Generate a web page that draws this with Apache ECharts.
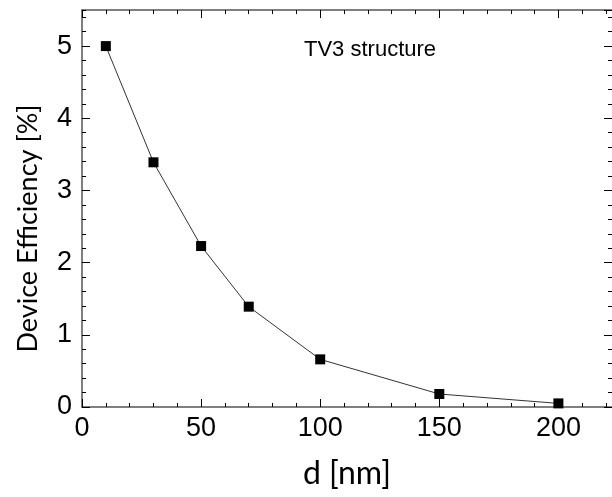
<!DOCTYPE html>
<html>
<head>
<meta charset="utf-8">
<script src="https://cdn.jsdelivr.net/npm/echarts@6/dist/echarts.min.js"></script>
<style>
  html, body { margin: 0; padding: 0; background: #fff; }
  #chart { width: 612px; height: 497px; }
</style>
</head>
<body>
<div id="chart"></div>
<script>
// thickness d [nm] vs device efficiency [%]
var thickness = [10, 30, 50, 70, 100, 150, 200];
var efficiency = [5.0, 3.39, 2.23, 1.39, 0.66, 0.18, 0.05];
var noteText = 'TV3 structure';

var font = 'Liberation Sans, Arial, sans-serif';
var nameFont = 'Lato, Liberation Sans, sans-serif';
var axisColor = '#555';

var xMax = 222.5, yMax = 5.5;

var chart = echarts.init(document.getElementById('chart'));

// main axis: labels + long ticks; helper axis: short ticks every 10 / 0.2
function xAx(pos, main) {
  return {
    type: 'value', position: pos, min: 0, max: xMax,
    interval: main ? 50 : 10,
    name: (main && pos == 'bottom') ? 'd [nm]' : '',
    nameLocation: 'middle', nameGap: 51,
    nameTextStyle: { fontFamily: nameFont, fontSize: 32, color: '#000' },
    axisLine: { show: main, onZero: false, lineStyle: { color: axisColor, width: 1.5 } },
    axisTick: { show: true, inside: true, length: main ? 8 : 4, lineStyle: { color: '#000', width: 1 } },
    axisLabel: { show: main && pos == 'bottom', showMaxLabel: false, margin: 8,
      fontFamily: font, fontSize: 27, color: '#000' },
    splitLine: { show: false }
  };
}
function yAx(pos, main) {
  return {
    type: 'value', position: pos, min: 0, max: yMax,
    interval: main ? 1 : 0.2,
    name: (main && pos == 'left') ? 'Device Efficiency [%]' : '',
    nameLocation: 'middle', nameGap: 40,
    nameTextStyle: { fontFamily: nameFont, fontSize: 27, color: '#000', padding: [0, 40, 0, 0] },
    axisLine: { show: main && pos == 'left', onZero: false, lineStyle: { color: axisColor, width: 1.5 } },
    axisTick: { show: true, inside: true, length: main ? 8 : 4, lineStyle: { color: '#000', width: 1 } },
    axisLabel: { show: main && pos == 'left', showMaxLabel: false, margin: 10,
      fontFamily: font, fontSize: 27, color: '#000' },
    splitLine: { show: false }
  };
}

chart.setOption({
  animation: false,
  backgroundColor: '#fff',
  title: {
    text: noteText, left: 299, top: 34,
    textStyle: { fontFamily: font, fontSize: 22, fontWeight: 'normal', color: '#000' }
  },
  grid: { left: 82, right: 0, top: 10, bottom: 90 },
  xAxis: [xAx('bottom', true), xAx('bottom', false), xAx('top', true), xAx('top', false)],
  yAxis: [yAx('left', true), yAx('left', false), yAx('right', true), yAx('right', false)],
  series: [{
    type: 'line',
    xAxisIndex: 0, yAxisIndex: 0,
    data: thickness.map(function (d, i) { return [d, efficiency[i]]; }),
    symbol: 'rect', symbolSize: 10,
    itemStyle: { color: '#000' },
    lineStyle: { color: '#333', width: 1 }
  }]
});
</script>
</body>
</html>
